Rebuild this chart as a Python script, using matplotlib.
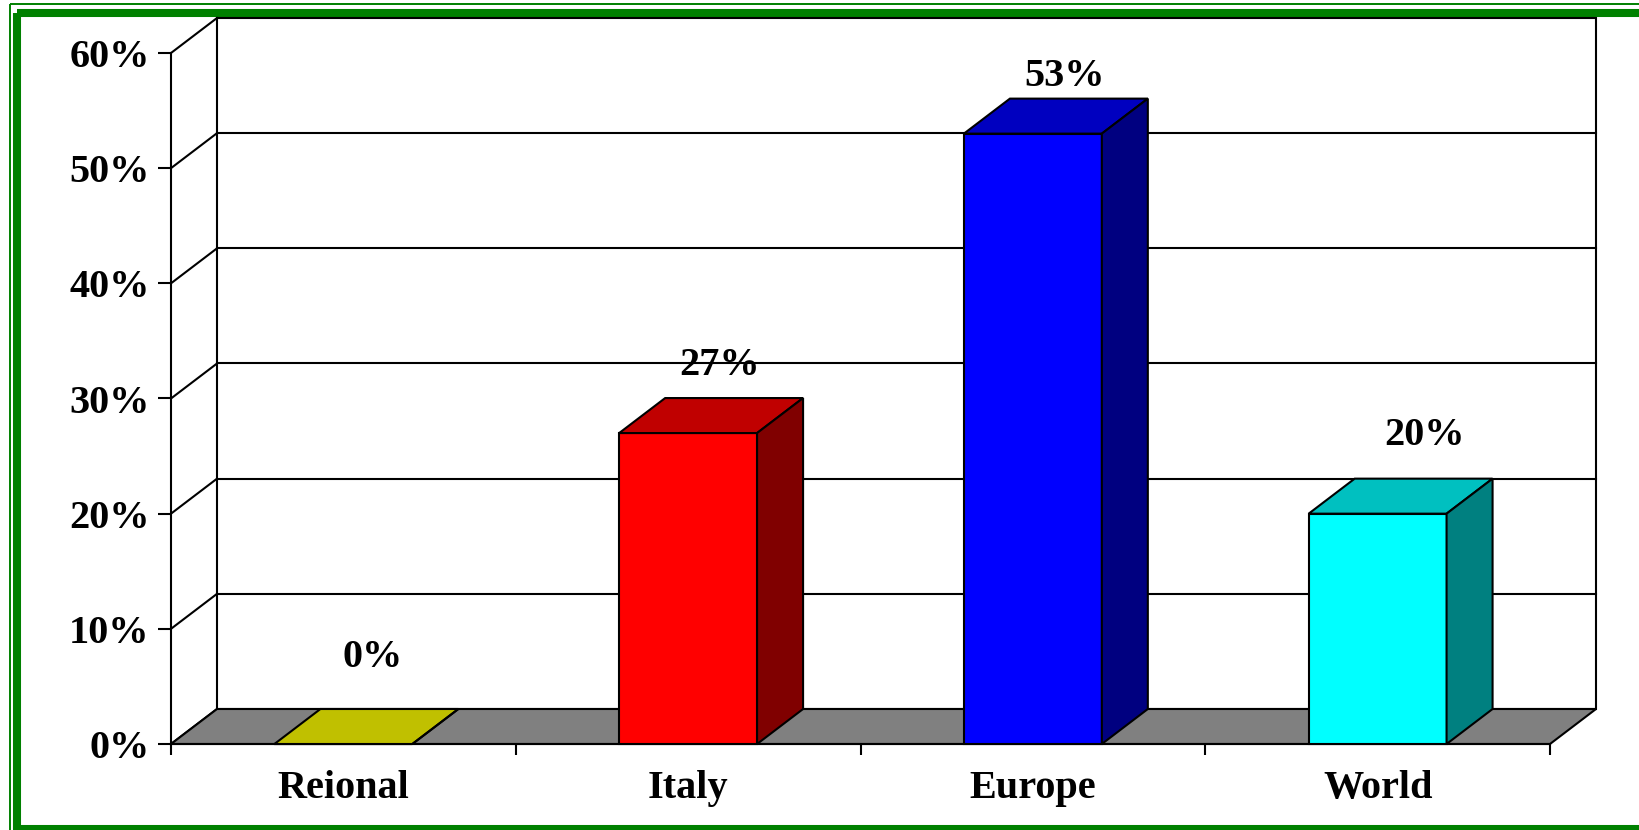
import matplotlib
matplotlib.use("Agg")
import matplotlib.pyplot as plt
from matplotlib.patches import Polygon, Rectangle

# chart data
categories = ["Reional", "Italy", "Europe", "World"]
values = [0, 27, 53, 20]
value_labels = ["0%", "27%", "53%", "20%"]
yticks = [0, 10, 20, 30, 40, 50, 60]
ytick_labels = ["0%", "10%", "20%", "30%", "40%", "50%", "60%"]

# face colours (front / top / side)
front_colors = ["#FFFF00", "#FF0000", "#0000FF", "#00FFFF"]
top_colors = ["#C0C000", "#C00000", "#0000C0", "#00C0C0"]
side_colors = ["#808000", "#800000", "#000080", "#008080"]

# layout tweaks for the value labels (x in categories, y in %)
label_dx = [0.084, 0.09, 0.093, 0.136]
label_dy = [6.68, 5.03, 4.17, 5.99]

plt.rcParams['font.family'] = ['Liberation Serif', 'DejaVu Serif']
plt.rcParams['font.weight'] = 'bold'

W, H = 1639, 830
fig = plt.figure(figsize=(W / 100, H / 100), dpi=100)

# green frame around the picture
bg = fig.add_axes([0, 0, 1, 1])
bg.set_xlim(0, W)
bg.set_ylim(H, 0)
bg.axis('off')
bg.add_patch(Rectangle((9.5, 4), W, H, fill=False, ec='#008000', lw=1.4))
bg.add_patch(Rectangle((17, 13), W, 816, fill=False, ec='#008000', lw=5.8))

# front plane of the 3d box
ax = fig.add_axes([171 / W, (H - 744) / H, (1550 - 171) / W, (744 - 53) / H])
ax.patch.set_visible(False)
ax.set_xlim(0, len(categories))
ax.set_ylim(yticks[0], yticks[-1])

n = len(categories)
dx = 46 / ((1550 - 171) / n)        # depth in category units
dy = 35 / ((744 - 53) / yticks[-1])  # depth in % units
lw = 1.5
bw = 0.4

# back wall + gridlines
ax.add_patch(Rectangle((dx, dy), n, yticks[-1], fc='white', ec='black', lw=lw,
                       clip_on=False, zorder=1))
for t in yticks[1:-1]:
    ax.plot([dx, n + dx], [t + dy, t + dy], color='black', lw=lw, clip_on=False, zorder=1.2)
# side wall lines
for t in yticks:
    ax.plot([0, dx], [t, t + dy], color='black', lw=lw, clip_on=False, zorder=1.2)

# floor
ax.add_patch(Polygon([(0, 0), (n, 0), (n + dx, dy), (dx, dy)], closed=True,
                     fc='#808080', ec='black', lw=lw, clip_on=False, zorder=2))

# bars
for i, v in enumerate(values):
    x0 = i + 0.5 - bw / 2
    x1 = i + 0.5 + bw / 2
    ax.add_patch(Rectangle((x0, 0), bw, v, fc=front_colors[i], ec='black', lw=lw,
                           clip_on=False, zorder=3))
    ax.add_patch(Polygon([(x0, v), (x1, v), (x1 + dx, v + dy), (x0 + dx, v + dy)], closed=True,
                         fc=top_colors[i], ec='black', lw=lw, clip_on=False, zorder=3))
    ax.add_patch(Polygon([(x1, 0), (x1 + dx, dy), (x1 + dx, v + dy), (x1, v)], closed=True,
                         fc=side_colors[i], ec='black', lw=lw, clip_on=False, zorder=3))
    ax.text(i + 0.5 + label_dx[i], v + label_dy[i], value_labels[i], ha='center', va='baseline',
            fontsize=29, fontweight='bold', zorder=4)

# axes lines and ticks
for s in ['top', 'right']:
    ax.spines[s].set_visible(False)
for s in ['left', 'bottom']:
    ax.spines[s].set_linewidth(lw)
    ax.spines[s].set_zorder(2.5)

ax.set_yticks(yticks, ytick_labels)
ax.tick_params(axis='y', length=9.4, width=lw, pad=6, labelsize=29)
ax.set_xticks(range(n + 1), minor=True)
ax.tick_params(axis='x', which='minor', length=8, width=lw, direction='out')
ax.set_xticks([i + 0.5 for i in range(n)], categories)
ax.tick_params(axis='x', which='major', length=0, pad=19, labelsize=29)
for lab in ax.get_xticklabels() + ax.get_yticklabels():
    lab.set_fontweight('bold')

fig.savefig("out.png", dpi=100)
